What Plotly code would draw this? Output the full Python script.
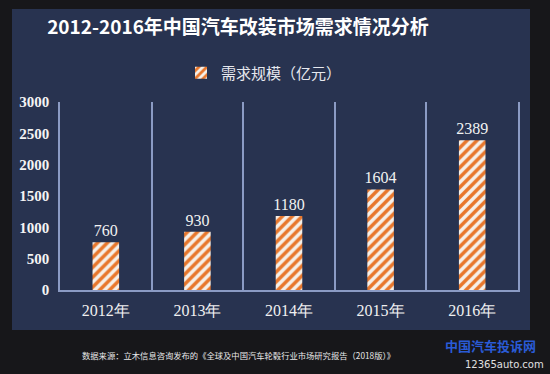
import plotly.graph_objects as go

years = ["2012年", "2013年", "2014年", "2015年", "2016年"]
demand = [760, 930, 1180, 1604, 2389]
y_ticks = [0, 500, 1000, 1500, 2000, 2500, 3000]

title_text = "2012-2016年中国汽车改装市场需求情况分析"
series_name = "需求规模（亿元）"
source_text = "数据来源：立木信息咨询发布的《全球及中国汽车轮毂行业市场研究报告（2018版）》"

L, R, T, B = 60, 32, 102, 84
W, H = 550, 374
pw, ph = W - L - R, H - T - B

def px(x):
    return (x - L) / pw

def py(y):
    return (H - B - y) / ph

fig = go.Figure()
fig.add_trace(go.Bar(
    x=years, y=demand, name=series_name,
    width=0.29,
    marker=dict(color="#f6f1ea", line=dict(width=0),
                pattern=dict(shape="/", fgcolor="#e8772c", bgcolor="#f6f1ea",
                             size=7, solidity=0.5, fgopacity=1)),
    text=[str(v) for v in demand], textposition="outside", constraintext="none",
    textfont=dict(family="Liberation Serif, serif", size=16, color="#f2f2f2"),
    cliponaxis=False,
))

fig.update_layout(
    width=W, height=H,
    margin=dict(l=L, r=R, t=T, b=B),
    paper_bgcolor="#17171a",
    plot_bgcolor="rgba(0,0,0,0)",
    showlegend=True,
    legend=dict(orientation="h", x=px(264), xanchor="center", y=py(73), yanchor="middle",
                font=dict(family="Noto Sans CJK SC", size=15, color="#e6e8ee"),
                bgcolor="rgba(0,0,0,0)", itemwidth=30),
    title=dict(text="<b>" + title_text + "</b>", x=238 / W, xanchor="center",
               y=1 - 27 / H, yanchor="middle",
               font=dict(family="Noto Sans CJK SC", size=19, color="#ffffff")),
    shapes=[dict(type="rect", xref="paper", yref="paper",
                 x0=px(12), x1=px(530), y0=py(330), y1=py(9),
                 fillcolor="#283350", line=dict(width=0), layer="below")],
    annotations=[
        dict(text=source_text, xref="paper", yref="paper", x=px(80), y=py(355),
             xanchor="left", yanchor="middle", showarrow=False,
             font=dict(family="Noto Sans CJK SC", size=8.3, color="#e8e8e8")),
        dict(text="<b>中国汽车投诉网</b>", xref="paper", yref="paper", x=px(490), y=py(345),
             xanchor="center", yanchor="middle", showarrow=False,
             font=dict(family="Noto Sans CJK SC", size=13, color="#2a5bd6")),
        dict(text="12365auto.com", xref="paper", yref="paper", x=px(546), y=py(364),
             xanchor="right", yanchor="middle", showarrow=False,
             font=dict(family="DejaVu Sans", size=10, color="#e0e0e0")),
    ],
)

fig.update_xaxes(
    type="category", tickson="boundaries", showgrid=True, gridcolor="#8b9bc4", gridwidth=1.5,
    showline=True, linecolor="#8b9bc4", linewidth=2, ticks="", ticklen=0,
    ticklabelstandoff=5,
    tickfont=dict(family="Liberation Serif, serif", size=16, color="#f0f0f0"),
    zeroline=False,
)
fig.update_yaxes(
    range=[0, 3000], tickvals=y_ticks, showgrid=False, zeroline=False,
    showline=True, linecolor="#8b9bc4", linewidth=1.5, mirror=True,
    tickfont=dict(family="Liberation Serif, serif", size=15, color="#f4f4f4", weight="bold"),
    ticks="outside", ticklen=6, tickcolor="rgba(0,0,0,0)",
)

fig.write_html("out.html", config={"displayModeBar": False},
               post_script="document.body.style.margin='0';document.body.style.overflow='hidden';")
